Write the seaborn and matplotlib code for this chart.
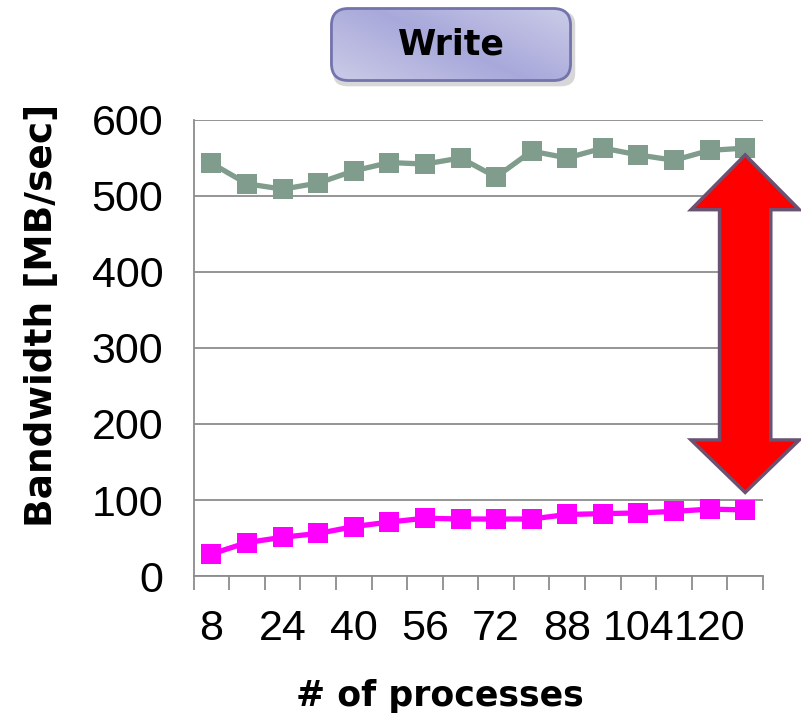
import numpy as np
import pandas as pd
import seaborn as sns
import matplotlib
matplotlib.use("Agg")
import matplotlib.pyplot as plt
from matplotlib.patches import FancyBboxPatch, Polygon

# Number of processes on the x axis
processes = [8, 16, 24, 32, 40, 48, 56, 64, 72, 80, 88, 96, 104, 112, 120, 128]
# Write bandwidth (MB/sec) for the two configurations
upper_bw = [543, 516, 509, 517, 533, 544, 542, 550, 525, 559, 550, 563, 554, 547, 560, 563]
lower_bw = [29, 44, 51, 56, 65, 71, 76, 75, 75, 75, 81, 82, 83, 85, 88, 87]
y_ticks = [0, 100, 200, 300, 400, 500, 600]
title_text = "Write"
x_label = "# of processes"
y_label = "Bandwidth [MB/sec]"

sns.set_theme(style="white")
plt.rcParams["font.family"] = ["DejaVu Sans"]
plt.rcParams["text.color"] = "black"
plt.rcParams["axes.labelcolor"] = "black"
plt.rcParams["xtick.color"] = "black"
plt.rcParams["ytick.color"] = "black"

df = pd.DataFrame({
    "pos": list(range(len(processes))) * 2,
    "bw": upper_bw + lower_bw,
    "series": ["upper"] * len(processes) + ["lower"] * len(processes),
})

fig = plt.figure(figsize=(8.01, 7.21), dpi=100)
ax = fig.add_axes([0.2418, 0.2011, 0.7107, 0.6325])

grid_c = "#8c8c8c"
sns.lineplot(data=df, x="pos", y="bw", hue="series",
             palette={"upper": "#7f9c8c", "lower": "#ff00ff"},
             marker="s", markersize=14.5, markeredgewidth=0,
             linewidth=3.8, legend=False, ax=ax, zorder=3)

ax.set_xlim(-0.5, len(processes) - 0.5)
ax.set_ylim(0, 600)
ax.set_yticks(y_ticks)
ax.yaxis.grid(True, color=grid_c, linewidth=1.3)
ax.xaxis.grid(False)

tick_font = ["Liberation Sans", "DejaVu Sans"]
ax.set_yticklabels([str(v) for v in y_ticks], fontsize=31, family=tick_font)
ax.tick_params(axis="y", length=10, width=1.3, color=grid_c, labelcolor="black",
               direction="out", pad=12)

# labels at every other category centre, tick marks at category boundaries
centres = list(range(0, len(processes), 2))
ax.set_xticks(centres)
ax.set_xticklabels([str(processes[i]) for i in centres], fontsize=31, family=tick_font)
ax.set_xticks(np.arange(-0.5, len(processes), 1.0), minor=True)
ax.tick_params(axis="x", which="major", length=0, pad=24, labelcolor="black")
ax.tick_params(axis="x", which="minor", length=10, width=1.3, color=grid_c,
               direction="out", bottom=True)

for side in ["top", "right"]:
    ax.spines[side].set_visible(False)
for side in ["left", "bottom"]:
    ax.spines[side].set_color(grid_c)
    ax.spines[side].set_linewidth(1.3)

ax.set_xlabel(x_label, fontsize=25, fontweight="bold", va="center")
ax.xaxis.set_label_coords(0.4326, -0.263)
ax.set_ylabel(y_label, fontsize=27, fontweight="bold", va="center")
ax.yaxis.set_label_coords(-0.2665, 0.572)

# Double-headed arrow marking the gap between the two configurations
cx, hw, sw = 15.0, 1.52, 0.72
top_tip, top_base, bot_base, bot_tip = 554, 482, 179, 110
arrow = Polygon([
    (cx, top_tip), (cx + hw, top_base), (cx + sw, top_base), (cx + sw, bot_base),
    (cx + hw, bot_base), (cx, bot_tip), (cx - hw, bot_base), (cx - sw, bot_base),
    (cx - sw, top_base), (cx - hw, top_base)],
    closed=True, facecolor="#ff0000", edgecolor="#6b5272", linewidth=2.5,
    joinstyle="miter", zorder=5, clip_on=False)
ax.add_patch(arrow)

# Title button with a soft lavender gradient
bx0, by0, bw_, bh_ = 330 / 801, 1 - 82 / 721, 242 / 801, 75 / 721
shadow = FancyBboxPatch((bx0 + 0.004, by0 - 0.006), bw_, bh_,
                        boxstyle="round,pad=0,rounding_size=0.018",
                        transform=fig.transFigure, facecolor="#bdbdbd",
                        edgecolor="none", alpha=0.6, zorder=1)
fig.patches.append(shadow)
bax = fig.add_axes([bx0, by0, bw_, bh_], zorder=2)
bax.set_axis_off()
gx, gy = np.meshgrid(np.linspace(0, 1, 200), np.linspace(0, 1, 60))
t = (gx * 0.6 + (1 - gy) * 0.4)
grad = 1 - np.abs(t - 0.5) * 2
c_light = np.array([0.80, 0.80, 0.91])
c_dark = np.array([0.66, 0.66, 0.86])
img = c_light[None, None, :] * (1 - grad[..., None]) + c_dark[None, None, :] * grad[..., None]
im = bax.imshow(img, extent=[0, 1, 0, 1], aspect="auto", transform=bax.transAxes)
bax.set_xlim(0, 1)
bax.set_ylim(0, 1)
clip = FancyBboxPatch((0.006, 0.02), 0.988, 0.96,
                      boxstyle="round,pad=0,rounding_size=0.07",
                      mutation_aspect=bw_ * 801 / (bh_ * 721),
                      transform=bax.transAxes, facecolor="none",
                      edgecolor="#7373ad", linewidth=2)
bax.add_patch(clip)
im.set_clip_path(clip)
bax.text(0.5, 0.50, title_text, ha="center", va="center", fontsize=25,
         fontweight="bold", color="black", transform=bax.transAxes)

fig.savefig("out.png", dpi=100)
